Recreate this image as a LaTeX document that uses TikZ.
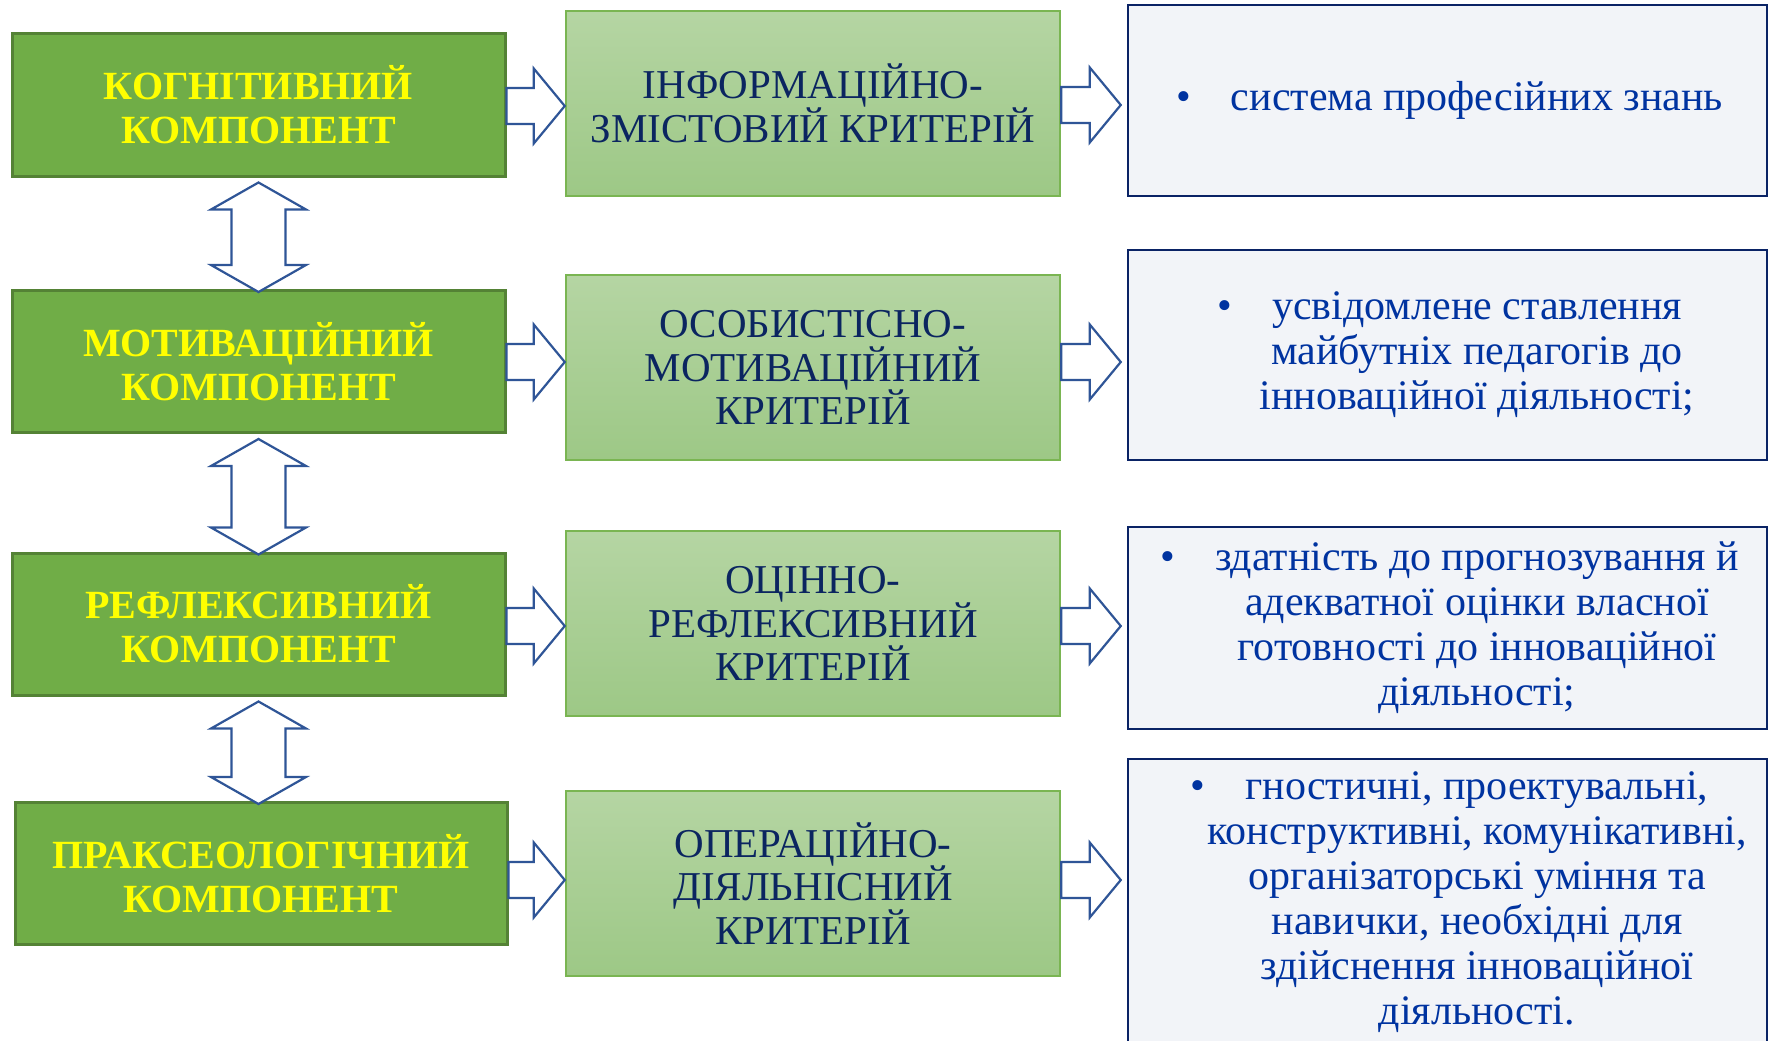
\documentclass[tikz,border=0pt]{standalone}
\usepackage{fontspec}
\setmainfont{Liberation Serif}
\usetikzlibrary{calc}
\definecolor{lfill}{HTML}{70AD47}
\definecolor{ldraw}{HTML}{548235}
\definecolor{mtop}{HTML}{B5D5A3}
\definecolor{mbot}{HTML}{9DC886}
\definecolor{mdraw}{HTML}{7AB552}
\definecolor{rfill}{HTML}{F2F4F8}
\definecolor{rdraw}{HTML}{0A2365}
\definecolor{rtext}{HTML}{0033A0}
\definecolor{mtext}{HTML}{0B2560}
\definecolor{arr}{HTML}{2F5597}
\definecolor{ytext}{HTML}{FFFF00}
% #1 from node, #2 to node, #3 y, #4 gap before target
\newcommand\blkarrow[4]{%
  \coordinate (aT) at ($(#2.west |- 0,#3)+(-#4,0)$);
  \coordinate (aS) at (#1.east |- 0,#3);
  \draw[barrow]
    ($(aS)+(0,-18)$) -- ($(aT)+(-31,-18)$) --
    ($(aT)+(-31,-37.5)$) -- (aT) --
    ($(aT)+(-31,37.5)$) -- ($(aT)+(-31,18)$) --
    ($(aS)+(0,18)$) -- cycle;}
\newcommand\dblarrow[2]{%
  \coordinate (tA) at ($(#1.south)+(0,5)$);
  \coordinate (tB) at ($(#1.south |- #2.north)+(0,3)$);
  \draw[barrow] (tA) -- ($(tA)+(47.5,27)$) -- ($(tA)+(27,27)$) --
    ($(tB)+(27,-27)$) -- ($(tB)+(47.5,-27)$) -- (tB) --
    ($(tB)+(-47.5,-27)$) -- ($(tB)+(-27,-27)$) --
    ($(tA)+(-27,27)$) -- ($(tA)+(-47.5,27)$) -- cycle;}
\begin{document}
\begin{tikzpicture}[x=1pt,y=-1pt,
  lbox/.style={draw=ldraw, fill=lfill, line width=3pt, minimum width=493pt,
    minimum height=142pt, inner sep=0pt, align=center, text=ytext,
    font=\fontsize{40}{44}\selectfont\bfseries},
  mbox/.style={draw=mdraw, top color=mtop, bottom color=mbot, line width=2.5pt,
    minimum width=494pt, minimum height=185pt, inner sep=0pt, align=center,
    text=mtext, font=\fontsize{41}{43.5}\selectfont},
  rbox/.style={draw=rdraw, fill=rfill, line width=2.5pt, minimum width=639pt,
    inner sep=0pt},
  rtxt/.style={align=center, text=rtext, inner sep=0pt,
    font=\fontsize{42}{45}\selectfont},
  barrow/.style={draw=arr, fill=white, line width=2.2pt, line join=miter}]
\useasboundingbox (0,0) rectangle (1772,1041);
\fill[white] (0,0) rectangle (1772,1041);
% left column
\node[lbox] (L1) at (258.5,105) {КОГНІТИВНИЙ\\КОМПОНЕНТ};
\node[lbox] (L2) at (258.5,361.5) {МОТИВАЦІЙНИЙ\\КОМПОНЕНТ};
\node[lbox] (L3) at (258.5,624) {РЕФЛЕКСИВНИЙ\\КОМПОНЕНТ};
\node[lbox, minimum width=492pt] (L4) at (261,873.5) {ПРАКСЕОЛОГІЧНИЙ\\КОМПОНЕНТ};
% middle column
\node[mbox] (M1) at (813,103.5) {ІНФОРМАЦІЙНО-\\ЗМІСТОВИЙ КРИТЕРІЙ};
\node[mbox] (M2) at (813,367.5) {ОСОБИСТІСНО-\\МОТИВАЦІЙНИЙ\\КРИТЕРІЙ};
\node[mbox] (M3) at (813,623.5) {ОЦІННО-\\РЕФЛЕКСИВНИЙ\\КРИТЕРІЙ};
\node[mbox] (M4) at (813,883.5) {ОПЕРАЦІЙНО-\\ДІЯЛЬНІСНИЙ\\КРИТЕРІЙ};
% right column
\node[rbox, minimum height=191pt] (R1) at (1447.5,100.5) {};
\node[rbox, minimum height=210pt] (R2) at (1447.5,355) {};
\node[rbox, minimum height=202pt] (R3) at (1447.5,628) {};
\node[rbox, minimum height=286pt] (R4) at (1447.5,902) {};
\newcommand\bul{\llap{•\hspace{40pt}}}
\node[rtxt] (T1) at ($(R1.center)+(29.5,0)$) {\bul система професійних знань};
\node[rtxt] (T2) at ($(R2.center)+(29.5,0)$) {\bul усвідомлене ставлення\\майбутніх педагогів до\\інноваційної діяльності;};
\node[rtxt] (T3) at ($(R3.center)+(29.5,0)$) {\bul здатність до прогнозування й\\адекватної оцінки власної\\готовності до інноваційної\\діяльності;};
\node[rtxt] (T4) at ($(R4.center)+(29.5,0)$) {\bul гностичні, проектувальні,\\конструктивні, комунікативні,\\організаторські уміння та\\навички, необхідні для\\здійснення інноваційної\\діяльності.};
% arrows
\blkarrow{L1}{M1}{106}{0}
\blkarrow{L2}{M2}{362}{0}
\blkarrow{L3}{M3}{626}{0}
\blkarrow{L4}{M4}{880}{0}
\blkarrow{M1}{R1}{105}{6}
\blkarrow{M2}{R2}{362}{6}
\blkarrow{M3}{R3}{626}{6}
\blkarrow{M4}{R4}{880}{6}
\dblarrow{L1}{L2}
\dblarrow{L2}{L3}
\dblarrow{L3}{L4}
\end{tikzpicture}
\end{document}
